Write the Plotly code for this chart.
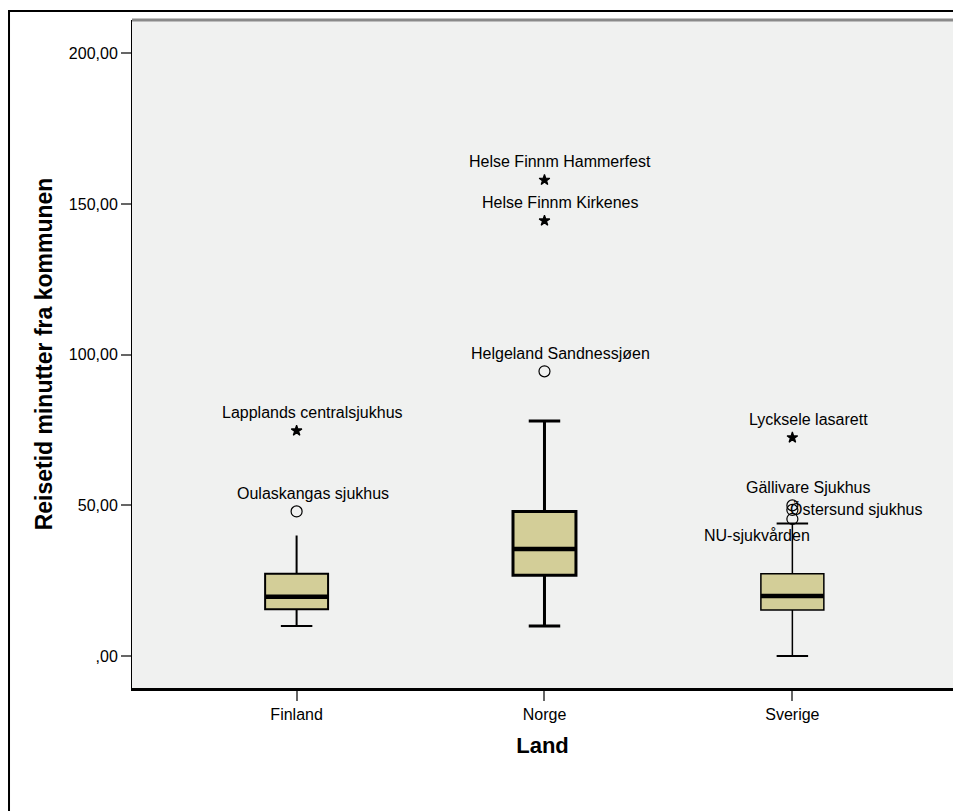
import plotly.graph_objects as go

# Travel time (minutes) from municipality to hospital, by country
countries = ["Finland", "Norge", "Sverige"]
q1 = [15.5, 26.8, 15.3]
medians = [19.7, 35.5, 19.9]
q3 = [27.3, 48.0, 27.3]
lower_whisker = [10.0, 10.0, 0.0]
upper_whisker = [40.0, 78.0, 44.0]

# Outlying hospitals: country index, value, kind, name
outlier_country = [0, 0, 1, 1, 1, 2, 2, 2, 2]
outlier_value = [74.8, 48.0, 158.0, 144.5, 94.5, 72.5, 50.0, 48.5, 45.5]
outlier_kind = ["extreme", "outlier", "extreme", "extreme", "outlier",
                "extreme", "outlier", "outlier", "outlier"]
outlier_name = ["Lapplands centralsjukhus", "Oulaskangas sjukhus",
                "Helse Finnm Hammerfest", "Helse Finnm Kirkenes",
                "Helgeland Sandnessjøen", "Lycksele lasarett",
                "Gällivare Sjukhus", "Östersund sjukhus", "NU-sjukvården"]

y_tickvals = [0, 50, 100, 150, 200]
y_ticktext = [",00", "50,00", "100,00", "150,00", "200,00"]

FONT = "Arial, Liberation Sans, sans-serif"
BOX_FILL = "#D3CE98"
BOX_W = 0.254
line_widths = [2, 3, 1.5]
# which whisker ends carry a cap
caps = [["low"], ["low", "high"], ["low", "high"]]

fig = go.Figure()

for i, name in enumerate(countries):
    fig.add_trace(go.Box(
        x=[i], q1=[q1[i]], median=[medians[i]], q3=[q3[i]],
        lowerfence=[lower_whisker[i]], upperfence=[upper_whisker[i]],
        width=BOX_W, whiskerwidth=0, boxpoints=False,
        fillcolor=BOX_FILL, line=dict(color="black", width=line_widths[i]),
        hoverinfo="skip", showlegend=False,
    ))
    # thick median bar
    fig.add_trace(go.Scatter(
        x=[i - BOX_W / 2, i + BOX_W / 2], y=[medians[i], medians[i]],
        mode="lines", line=dict(color="black", width=4.5),
        hoverinfo="skip", showlegend=False,
    ))
    # whisker caps
    for end in caps[i]:
        v = lower_whisker[i] if end == "low" else upper_whisker[i]
        fig.add_trace(go.Scatter(
            x=[i - BOX_W / 4, i + BOX_W / 4], y=[v, v],
            mode="lines", line=dict(color="black", width=max(2, line_widths[i])),
            hoverinfo="skip", showlegend=False,
        ))

# outlier markers
for kind, symbol, size in [("outlier", "circle-open", 11), ("extreme", "star", 8)]:
    xs = [c for c, k in zip(outlier_country, outlier_kind) if k == kind]
    ys = [v for v, k in zip(outlier_value, outlier_kind) if k == kind]
    fig.add_trace(go.Scatter(
        x=xs, y=ys, mode="markers",
        marker=dict(symbol=symbol, size=size, color="black",
                    line=dict(color="black", width=1.2)),
        hoverinfo="skip", showlegend=False,
    ))

# label placement (pixel offsets from each marker)
label_offsets = {
    "Östersund sjukhus": dict(xshift=-4, yshift=0, xanchor="left"),
    "NU-sjukvården": dict(xshift=-35, yshift=-17, xanchor="center"),
}
for c, v, n in zip(outlier_country, outlier_value, outlier_name):
    off = label_offsets.get(n, dict(xshift=16, yshift=18, xanchor="center"))
    fig.add_annotation(
        x=c, y=v, text=n, showarrow=False,
        xanchor=off["xanchor"], yanchor="middle",
        xshift=off["xshift"], yshift=off["yshift"],
        font=dict(family=FONT, size=16, color="black"),
    )

# outer frame and gray top edge of the plotting area
fig.add_shape(type="rect", xref="paper", yref="paper",
              x0=-0.1498, x1=1.02, y0=-0.19, y1=1.0135,
              line=dict(color="black", width=2), layer="above")
fig.add_shape(type="line", xref="paper", yref="paper",
              x0=0, x1=1, y0=1, y1=1,
              line=dict(color="#8a8a8a", width=3), layer="above")

fig.update_layout(
    width=953, height=811,
    margin=dict(l=132, r=0, t=20, b=123),
    paper_bgcolor="white", plot_bgcolor="#F0F1F0",
    font=dict(family=FONT, size=16, color="black"),
    xaxis=dict(
        range=[-0.664, 2.648], tickvals=[0, 1, 2], ticktext=countries,
        showgrid=False, zeroline=False,
        showline=True, linecolor="black", linewidth=2.5,
        ticks="outside", ticklen=10, tickwidth=1.5, tickcolor="#666",
        tickfont=dict(family=FONT, size=16, color="black"),
        title=dict(text="<b>Land</b>", font=dict(family=FONT, size=22),
                   standoff=16),
    ),
    yaxis=dict(
        range=[-10.6, 211.1], tickvals=y_tickvals, ticktext=y_ticktext,
        showgrid=False, zeroline=False,
        showline=True, linecolor="black", linewidth=1,
        ticks="outside", ticklen=10, tickwidth=1.5, tickcolor="#666",
        tickfont=dict(family=FONT, size=16, color="black"),
        title=dict(text="<b>Reisetid minutter fra kommunen</b>",
                   font=dict(family=FONT, size=23), standoff=9),
    ),
)

fig.write_html("out.html")
